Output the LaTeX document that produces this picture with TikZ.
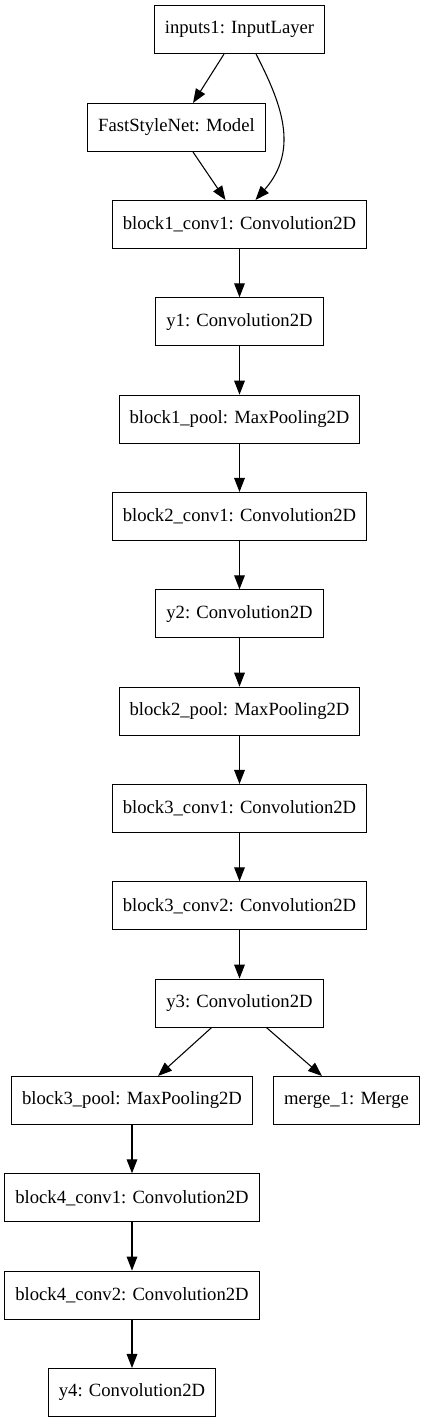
\documentclass[tikz,border=0pt]{standalone}
\usepackage{fontspec}
\setmainfont{Liberation Serif}
\usetikzlibrary{arrows.meta}

\tikzset{
  layer/.style={draw, line width=0.8pt, inner xsep=7.9pt, inner ysep=0pt,
    minimum height=36pt, font=\fontsize{14}{16}\selectfont},
}

\begin{document}
\begin{tikzpicture}[x=0.75pt, y=-0.75pt, line width=0.8pt,
    >={Triangle[length=10.5pt, width=8pt]}]
    \useasboundingbox (0,0) rectangle (425,1423);

    % Input and style network
    \node[layer] (inputs1) at (239.5,29.5) {inputs1: InputLayer};
    \node[layer] (fsn) at (176.5,127.5) {FastStyleNet: Model};

    % Block 1
    \node[layer] (b1conv1) at (239.5,224.5) {block1\_conv1: Convolution2D};
    \node[layer] (y1) at (239.5,321.8) {y1: Convolution2D};
    \node[layer] (b1pool) at (239.5,419.2) {block1\_pool: MaxPooling2D};

    % Block 2
    \node[layer] (b2conv1) at (239.5,516.5) {block2\_conv1: Convolution2D};
    \node[layer] (y2) at (239.5,613.8) {y2: Convolution2D};
    \node[layer] (b2pool) at (239.5,711.2) {block2\_pool: MaxPooling2D};

    % Block 3
    \node[layer] (b3conv1) at (239.5,808.5) {block3\_conv1: Convolution2D};
    \node[layer] (b3conv2) at (239.5,905.8) {block3\_conv2: Convolution2D};
    \node[layer] (y3) at (239.5,1003.1) {y3: Convolution2D};
    \node[layer] (b3pool) at (132,1100.5) {block3\_pool: MaxPooling2D};
    \node[layer] (merge1) at (346.5,1100.5) {merge\_1: Merge};

    % Block 4
    \node[layer] (b4conv1) at (132,1197.8) {block4\_conv1: Convolution2D};
    \node[layer] (b4conv2) at (132,1295.1) {block4\_conv2: Convolution2D};
    \node[layer] (y4) at (132,1392.5) {y4: Convolution2D};

    % Edges
    \draw[->] ([xshift=-11.6pt]inputs1.south) -- ([xshift=12.4pt]fsn.north);
    \draw[->] ([xshift=12.4pt]fsn.south) -- ([xshift=-10.5pt]b1conv1.north);
    \draw[->] ([xshift=12.4pt]inputs1.south) .. controls +(24,47) and +(45,-51) .. ([xshift=12pt]b1conv1.north);
    \draw[->] (b1conv1) -- (y1);
    \draw[->] (y1) -- (b1pool);
    \draw[->] (b1pool) -- (b2conv1);
    \draw[->] (b2conv1) -- (y2);
    \draw[->] (y2) -- (b2pool);
    \draw[->] (b2pool) -- (b3conv1);
    \draw[->] (b3conv1) -- (b3conv2);
    \draw[->] (b3conv2) -- (y3);
    \draw[->] ([xshift=-21pt]y3.south) -- ([xshift=19.5pt]b3pool.north);
    \draw[->] ([xshift=20.3pt]y3.south) -- ([xshift=-18.4pt]merge1.north);
    \draw[->] (b3pool) -- (b4conv1);
    \draw[->] (b4conv1) -- (b4conv2);
    \draw[->] (b4conv2) -- (y4);
\end{tikzpicture}
\end{document}
